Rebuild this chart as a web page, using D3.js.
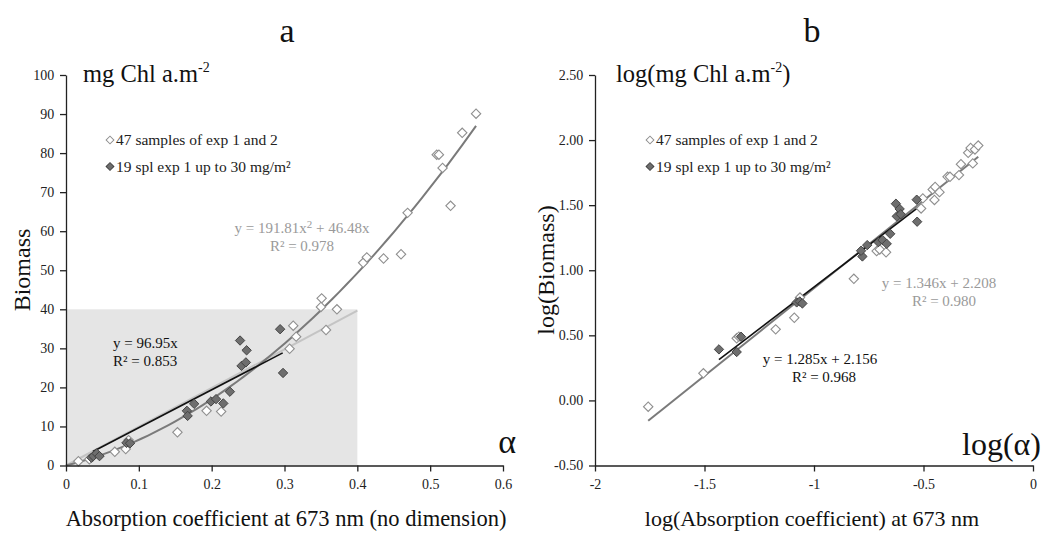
<!DOCTYPE html>
<html><head><meta charset="utf-8">
<script src="https://cdn.jsdelivr.net/npm/d3@7"></script>
<style>
html,body{margin:0;padding:0;background:#fff;}
svg{display:block;font-family:"Liberation Serif","Times New Roman",serif;}
</style></head>
<body>
<svg id="chart" width="1060" height="534"></svg>
<script>
// ---------- Data: panel a (linear) ----------
const openA_x = [0.017,0.032,0.067,0.082,0.086,0.153,0.193,0.213,0.307,0.312,0.316,0.351,0.350,0.357,0.372,0.408,0.413,0.436,0.460,0.469,0.509,0.512,0.517,0.528,0.544,0.563];
const openA_y = [1.1,1.6,3.5,4.2,6.5,8.5,14.0,13.8,29.9,35.8,33.0,42.8,40.6,34.7,40.0,51.9,53.3,53.0,54.1,64.7,79.6,79.6,76.2,66.5,85.2,90.1];
const fillA_x = [0.035,0.0375,0.042,0.046,0.083,0.088,0.166,0.167,0.176,0.199,0.206,0.216,0.225,0.239,0.241,0.247,0.248,0.294,0.298];
const fillA_y = [2.0,2.4,3.1,2.4,5.8,5.7,14.0,12.7,15.8,16.4,17.0,15.9,18.9,32.0,25.5,26.4,29.5,34.9,23.7];
// trendlines of panel a (coefficients printed on the chart)
const polyA = {a:191.81, b:46.48, x0:0, x1:0.563};
const linBlackA = {m:96.95, x0:0.037, x1:0.2975};
const linLightA = {m:99.2, x0:0, x1:0.4};
const shadeA = {x:[0,0.4], y:[0,40]};
const ticksAx = [0,0.1,0.2,0.3,0.4,0.5,0.6];
const ticksAxLbl = ["0","0.1","0.2","0.3","0.4","0.5","0.6"];
const ticksAy = [0,10,20,30,40,50,60,70,80,90,100];

// ---------- Data: panel b (log) ----------
const openB_x = [-1.757,-1.505,-1.353,-1.343,-1.175,-1.090,-1.064,-0.818,-0.714,-0.700,-0.671,-0.511,-0.503,-0.450,-0.458,-0.447,-0.427,-0.390,-0.379,-0.338,-0.329,-0.296,-0.285,-0.275,-0.265,-0.250];
const openB_y = [-0.048,0.208,0.477,0.490,0.546,0.635,0.790,0.934,1.147,1.160,1.138,1.475,1.552,1.540,1.621,1.640,1.600,1.718,1.718,1.731,1.815,1.902,1.940,1.821,1.928,1.958];
const fillB_x = [-1.434,-1.353,-1.333,-1.079,-1.065,-1.053,-0.779,-0.785,-0.757,-0.706,-0.687,-0.668,-0.652,-0.626,-0.609,-0.622,-0.604,-0.531,-0.529];
const fillB_y = [0.392,0.372,0.489,0.753,0.760,0.745,1.106,1.150,1.193,1.216,1.232,1.203,1.280,1.511,1.471,1.414,1.430,1.542,1.373];
const linGrayB = {m:1.346, c:2.208, x0:-1.757, x1:-0.25};
const linBlackB = {m:1.285, c:2.156, x0:-1.434, x1:-0.524};
const ticksBx = [-2,-1.5,-1,-0.5,0];
const ticksBxLbl = ["-2","-1.5","-1","-0.5","0"];
const ticksBy = [-0.5,0,0.5,1,1.5,2,2.5];
const ticksByLbl = ["-0.50","0.00","0.50","1.00","1.50","2.00","2.50"];

const legendLabels = ["47 samples of exp 1 and 2","19 spl exp 1 up to 30 mg/m²"];

// ---------- Drawing ----------
const svg = d3.select("#chart");
const xA = d3.scaleLinear().domain([0,0.6]).range([66,503]);
const yA = d3.scaleLinear().domain([0,100]).range([465.5,75]);
const xB = d3.scaleLinear().domain([-2,0]).range([595,1033]);
const yB = d3.scaleLinear().domain([-0.5,2.5]).range([465.5,75]);

const OPEN_STROKE = "#8f8f8f", FILL = "#6e6e6e", FILL_STROKE = "#404040";
const diamond = d3.symbol().type(d3.symbolSquare).size(44)();
const diamondSmall = d3.symbol().type(d3.symbolSquare).size(30)();

function drawAxes(g, xs, ys, xt, xl, yt, yl){
  const ax = g.append("g").attr("transform",`translate(0,${ys.range()[0]})`)
    .call(d3.axisBottom(xs).tickValues(xt).tickSize(6).tickSizeOuter(0).tickFormat((d,i)=>xl[i]));
  const ay = g.append("g").attr("transform",`translate(${xs.range()[0]},0)`)
    .call(d3.axisLeft(ys).tickValues(yt).tickSize(6).tickSizeOuter(0).tickFormat((d,i)=>yl[i]));
  [ax,ay].forEach(a=>{
    a.select(".domain").attr("stroke","#222").attr("stroke-width",1.3);
    a.selectAll(".tick line").attr("stroke","#222").attr("stroke-width",1.3);
    a.selectAll(".tick text").attr("fill","#222").style("font-size","14px")
      .style("font-family","'Liberation Serif',serif");
  });
  ax.selectAll(".tick text").attr("dy","1.05em");
  ay.selectAll(".tick text").attr("dx","-0.2em");
}
function pts(g, xs, ys, X, Y, open){
  g.append("g").selectAll("path").data(X.map((x,i)=>[x,Y[i]])).join("path")
    .attr("d",diamond)
    .attr("transform",d=>`translate(${xs(d[0])},${ys(d[1])}) rotate(45)`)
    .attr("fill",open?"#fff":FILL)
    .attr("stroke",open?OPEN_STROKE:FILL_STROKE)
    .attr("stroke-width",open?1.1:0.9);
}
function legend(g, x, y){
  legendLabels.forEach((t,i)=>{
    const yy = y + i*26.5;
    g.append("path").attr("d",diamondSmall)
      .attr("transform",`translate(${x},${yy}) rotate(45)`)
      .attr("fill",i===0?"#fff":FILL).attr("stroke",i===0?OPEN_STROKE:FILL_STROKE).attr("stroke-width",1);
    g.append("text").attr("x",x+6).attr("y",yy+5).text(t)
      .style("font-size","15.5px").attr("fill","#222");
  });
}

// ===== Panel a =====
const ga = svg.append("g");
ga.append("rect").attr("x",xA(shadeA.x[0])).attr("y",yA(shadeA.y[1]))
  .attr("width",xA(shadeA.x[1])-xA(shadeA.x[0])).attr("height",yA(shadeA.y[0])-yA(shadeA.y[1]))
  .attr("fill","#e5e5e5");
const lineA = d3.line().x(d=>xA(d[0])).y(d=>yA(d[1]));
ga.append("path").attr("d",lineA([[linLightA.x0,linLightA.m*linLightA.x0],[linLightA.x1,linLightA.m*linLightA.x1]]))
  .attr("stroke","#c4c4c4").attr("stroke-width",2).attr("fill","none");
const polyPts = d3.range(0,61).map(i=>{const x=polyA.x0+(polyA.x1-polyA.x0)*i/60; return [x, polyA.a*x*x+polyA.b*x];});
ga.append("path").attr("d",lineA(polyPts)).attr("stroke","#7a7a7a").attr("stroke-width",2).attr("fill","none");
ga.append("path").attr("d",lineA([[linBlackA.x0,linBlackA.m*linBlackA.x0],[linBlackA.x1,linBlackA.m*linBlackA.x1]]))
  .attr("stroke","#111").attr("stroke-width",1.6).attr("fill","none");
pts(ga,xA,yA,openA_x,openA_y,true);
pts(ga,xA,yA,fillA_x,fillA_y,false);
drawAxes(ga,xA,yA,ticksAx,ticksAxLbl,ticksAy,ticksAy.map(String));
legend(ga,110,140);

ga.append("text").attr("x",287).attr("y",42).attr("text-anchor","middle").style("font-size","34px").attr("fill","#111").text("a");
const ua = ga.append("text").attr("x",83).attr("y",82).style("font-size","24.5px").attr("fill","#111");
ua.append("tspan").text("mg Chl a.m");
ua.append("tspan").attr("dy","-10").style("font-size","14px").text("-2");
ga.append("text").attr("x",516).attr("y",453).attr("text-anchor","end").style("font-size","34px").attr("fill","#111").text("α");
ga.append("text").attr("transform","translate(30,270) rotate(-90)").attr("text-anchor","middle").style("font-size","24px").attr("fill","#111").text("Biomass");
ga.append("text").attr("x",286).attr("y",526).attr("text-anchor","middle").style("font-size","22.5px").attr("fill","#111").text("Absorption coefficient at 673 nm (no dimension)");
// equations a
const eqA = ga.append("text").attr("x",302).attr("y",233).attr("text-anchor","middle").style("font-size","15px").attr("fill","#9a9a9a");
eqA.append("tspan").text("y = 191.81x");
eqA.append("tspan").attr("dy","-5").style("font-size","11px").text("2");
eqA.append("tspan").attr("dy","5").text(" + 46.48x");
ga.append("text").attr("x",302).attr("y",251).attr("text-anchor","middle").style("font-size","15px").attr("fill","#9a9a9a").text("R² = 0.978");
ga.append("text").attr("x",113).attr("y",348).style("font-size","15px").attr("fill","#111").text("y = 96.95x");
ga.append("text").attr("x",113).attr("y",366).style("font-size","15px").attr("fill","#111").text("R² = 0.853");

// ===== Panel b =====
const gb = svg.append("g");
const lineB = d3.line().x(d=>xB(d[0])).y(d=>yB(d[1]));
gb.append("path").attr("d",lineB([[linGrayB.x0,linGrayB.m*linGrayB.x0+linGrayB.c],[linGrayB.x1,linGrayB.m*linGrayB.x1+linGrayB.c]]))
  .attr("stroke","#7a7a7a").attr("stroke-width",2).attr("fill","none");
gb.append("path").attr("d",lineB([[linBlackB.x0,linBlackB.m*linBlackB.x0+linBlackB.c],[linBlackB.x1,linBlackB.m*linBlackB.x1+linBlackB.c]]))
  .attr("stroke","#111").attr("stroke-width",1.6).attr("fill","none");
pts(gb,xB,yB,openB_x,openB_y,true);
pts(gb,xB,yB,fillB_x,fillB_y,false);
drawAxes(gb,xB,yB,ticksBx,ticksBxLbl,ticksBy,ticksByLbl);
legend(gb,650,140);

gb.append("text").attr("x",812).attr("y",42).attr("text-anchor","middle").style("font-size","34px").attr("fill","#111").text("b");
const ub = gb.append("text").attr("x",616).attr("y",82).style("font-size","24.5px").attr("fill","#111");
ub.append("tspan").text("log(mg Chl a.m");
ub.append("tspan").attr("dy","-10").style("font-size","14px").text("-2");
ub.append("tspan").attr("dy","10").text(")");
gb.append("text").attr("x",1041).attr("y",455).attr("text-anchor","end").style("font-size","32px").attr("fill","#111").text("log(α)");
gb.append("text").attr("transform","translate(554,270) rotate(-90)").attr("text-anchor","middle").style("font-size","24px").attr("fill","#111").text("log(Biomass)");
gb.append("text").attr("x",812).attr("y",526).attr("text-anchor","middle").style("font-size","22px").attr("fill","#111").text("log(Absorption coefficient) at 673 nm");
gb.append("text").attr("x",939).attr("y",288).attr("text-anchor","middle").style("font-size","15px").attr("fill","#9a9a9a").text("y = 1.346x + 2.208");
gb.append("text").attr("x",944).attr("y",306).attr("text-anchor","middle").style("font-size","15px").attr("fill","#9a9a9a").text("R² = 0.980");
gb.append("text").attr("x",820).attr("y",364).attr("text-anchor","middle").style("font-size","15px").attr("fill","#111").text("y = 1.285x + 2.156");
gb.append("text").attr("x",824).attr("y",382).attr("text-anchor","middle").style("font-size","15px").attr("fill","#111").text("R² = 0.968");
</script>
</body></html>
